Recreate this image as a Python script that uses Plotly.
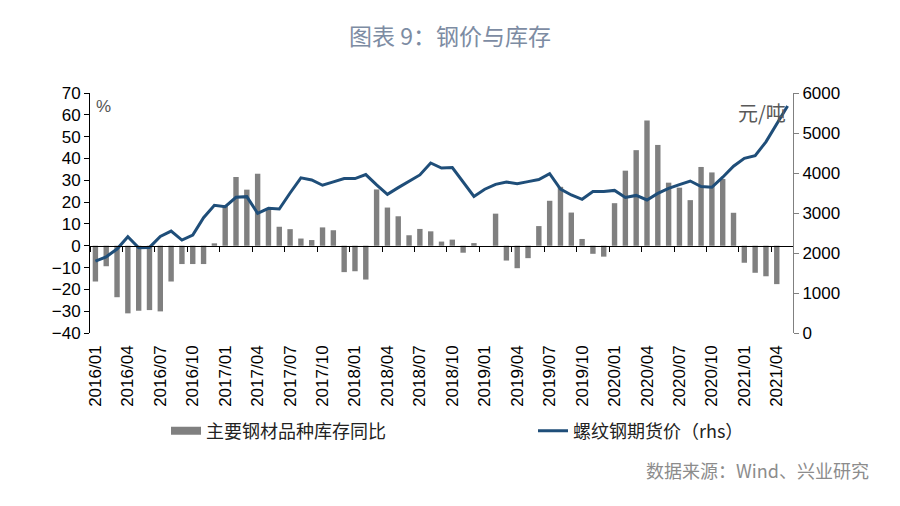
import plotly.graph_objects as go

# 月度数据：2016/01 - 2021/05
months = [f"{y}/{m:02d}" for y in range(2016, 2022) for m in range(1, 13)][:65]

# 主要钢材品种库存同比 (%)，至 2021/04
inventory_yoy = [
    -16.4, -9.4, -23.6, -31.0, -29.8, -29.5, -30.1, -16.4, -8.4, -8.4, -8.4, 1.1,
    18.6, 31.5, 25.7, 33.0, 16.5, 8.7, 7.6, 3.3, 2.6, 8.4, 7.1, -12.1,
    -11.7, -15.5, 25.8, 17.5, 13.5, 4.8, 7.7, 6.6, 1.9, 2.8, -3.2, 1.2,
    0.0, 14.7, -6.8, -10.3, -5.7, 9.0, 20.6, 27.0, 15.2, 3.1, -3.7, -5.0,
    19.5, 34.4, 43.8, 57.4, 46.2, 28.9, 26.6, 20.9, 36.1, 33.6, 30.6, 15.1,
    -7.8, -12.4, -14.0, -17.6,
]

# 螺纹钢期货价 (元/吨)，至 2021/05
rebar_price = [
    1797, 1905, 2098, 2406, 2130, 2140, 2416, 2549, 2323, 2449, 2882, 3193,
    3158, 3393, 3409, 2992, 3118, 3100, 3500, 3880, 3827, 3694, 3777, 3860,
    3860, 3960, 3702, 3468, 3634, 3785, 3952, 4250, 4125, 4136, 3785, 3415,
    3594, 3715, 3773, 3731, 3785, 3835, 3985, 3600, 3451, 3343, 3535, 3540,
    3565, 3390, 3440, 3326, 3490, 3615, 3710, 3800, 3660, 3644, 3895, 4170,
    4365, 4432, 4780, 5225, 5675,
]

tick_idx = list(range(0, len(months), 3))
tick_text = [months[i] for i in tick_idx]
boundary_ticks = [i - 0.5 for i in range(0, len(months) + 1, 3)]

LEFT_RANGE = [-40, 70]
BAR_COLOR = "#808080"
LINE_COLOR = "#1f4e79"
CJK = "Noto Sans CJK SC"
LATIN = "Liberation Sans, Arial, sans-serif"

# 绘图区像素位置（用于换算注释/图例位置）
PL, PR, PT, PB = 90, 793, 93, 333
W, H = 900, 506


def px_x(x):
    return (x - PL) / (PR - PL)


def px_y(y):
    return (PB - y) / (PB - PT)


fig = go.Figure()

fig.add_trace(go.Bar(
    x=list(range(len(inventory_yoy))),
    y=inventory_yoy,
    name="主要钢材品种库存同比",
    marker=dict(color=BAR_COLOR, line=dict(width=0)),
    width=0.5,
    showlegend=False,
))

# 图例用的宽色块
fig.add_trace(go.Scatter(
    x=[None], y=[None],
    name="主要钢材品种库存同比",
    mode="lines",
    line=dict(color=BAR_COLOR, width=8),
    legend="legend",
))

fig.add_trace(go.Scatter(
    x=list(range(len(rebar_price))),
    y=rebar_price,
    name="螺纹钢期货价（rhs）",
    mode="lines",
    line=dict(color=LINE_COLOR, width=3),
    yaxis="y2",
    legend="legend2",
))

# 零轴 + 刻度线（位于 y=0 处）
fig.add_trace(go.Scatter(x=[None], y=[None], xaxis="x2", showlegend=False))

zero_pos = (0 - LEFT_RANGE[0]) / (LEFT_RANGE[1] - LEFT_RANGE[0])

legend_style = dict(
    orientation="h",
    xanchor="left",
    yanchor="middle",
    y=px_y(431),
    font=dict(family=CJK, size=18, color="#222222"),
    bgcolor="rgba(0,0,0,0)",
)

fig.update_layout(
    width=W,
    height=H,
    plot_bgcolor="white",
    paper_bgcolor="white",
    margin=dict(l=PL, r=W - PR, t=PT, b=H - PB),
    title=dict(
        text="图表 9：钢价与库存",
        x=0.5, xref="container", xanchor="center",
        y=1 - 37 / H, yref="container", yanchor="middle",
        font=dict(family=CJK, size=23, color="#7d8ca3"),
    ),
    xaxis=dict(
        range=[-0.5, len(months) - 0.5],
        tickmode="array",
        tickvals=tick_idx,
        ticktext=tick_text,
        tickangle=-90,
        ticks="",
        ticklabelstandoff=8,
        showline=False,
        showgrid=False,
        zeroline=False,
        tickfont=dict(family=LATIN, size=17, color="black"),
    ),
    xaxis2=dict(
        overlaying="x",
        matches="x",
        anchor="free",
        position=zero_pos,
        side="bottom",
        tickmode="array",
        tickvals=boundary_ticks,
        ticks="outside",
        ticklen=5,
        tickcolor="black",
        showticklabels=False,
        showline=True,
        linecolor="black",
        linewidth=1,
        showgrid=False,
        zeroline=False,
    ),
    yaxis=dict(
        range=LEFT_RANGE,
        dtick=10,
        showgrid=False,
        zeroline=False,
        showline=True,
        linecolor="black",
        ticks="outside",
        ticklen=5,
        tickcolor="black",
        tickfont=dict(family=LATIN, size=17, color="black"),
    ),
    yaxis2=dict(
        range=[0, 6000],
        dtick=1000,
        overlaying="y",
        side="right",
        showgrid=False,
        zeroline=False,
        showline=True,
        linecolor="#808080",
        ticks="outside",
        ticklen=5,
        tickcolor="#808080",
        tickfont=dict(family=LATIN, size=17, color="black"),
    ),
    legend=dict(x=px_x(166), **legend_style),
    legend2=dict(x=px_x(533), **legend_style),
    annotations=[
        dict(text="%", xref="paper", yref="paper",
             x=px_x(94), y=px_y(106),
             xanchor="left", yanchor="middle", showarrow=False,
             font=dict(family=LATIN, size=17, color="#555555")),
        dict(text="元/吨", xref="paper", yref="paper",
             x=px_x(788), y=px_y(112),
             xanchor="right", yanchor="middle", showarrow=False,
             font=dict(family=CJK, size=20, color="#595959")),
        dict(text="数据来源：Wind、兴业研究", xref="paper", yref="paper",
             x=px_x(871), y=px_y(470),
             xanchor="right", yanchor="middle", showarrow=False,
             font=dict(family=CJK, size=18, color="#8c8c8c")),
    ],
)

fig.write_html(
    "out.html",
    config={"displayModeBar": False},
    post_script="document.body.style.margin='0';",
)
